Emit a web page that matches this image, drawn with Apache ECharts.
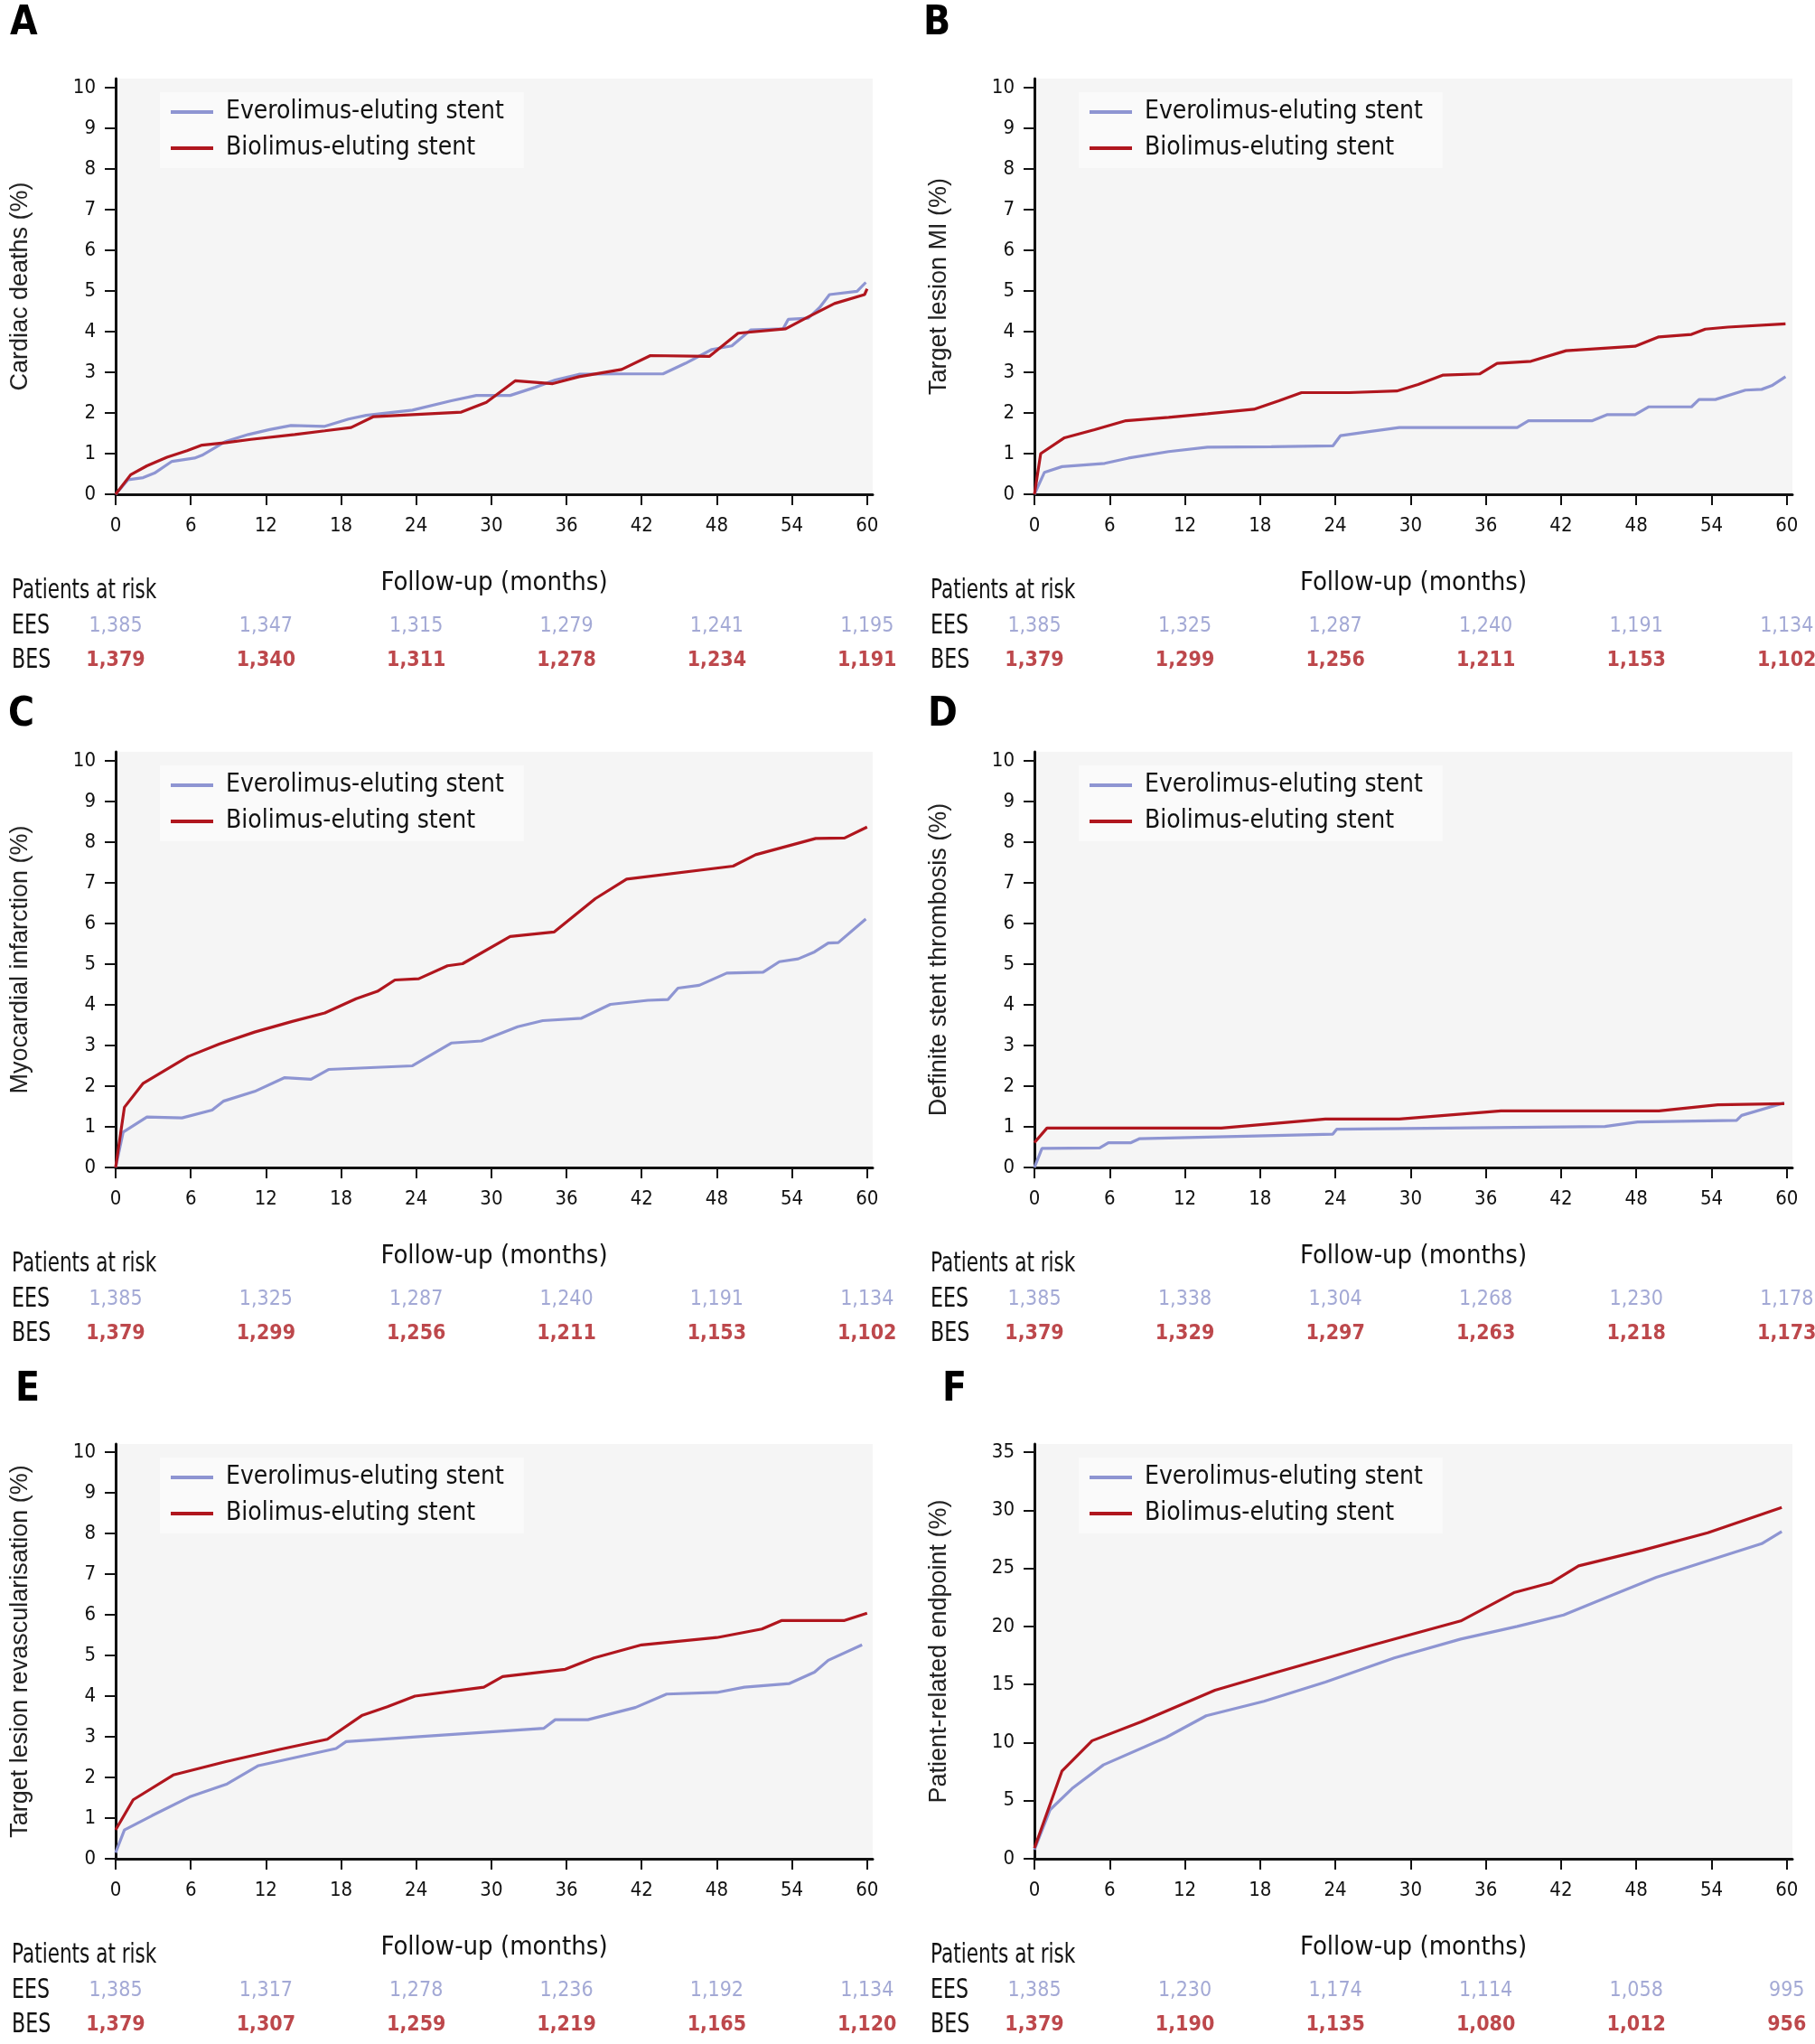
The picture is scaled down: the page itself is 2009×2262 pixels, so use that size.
<!DOCTYPE html>
<html><head><meta charset="utf-8">
<script src="https://cdn.jsdelivr.net/npm/echarts@6/dist/echarts.min.js"></script>
<style>html,body{margin:0;padding:0;background:#fff}#c{width:2009px;height:2262px}</style>
</head><body><div id="c"></div>
<script>
// ---- tick labels ----
const xTicks = [0, 6, 12, 18, 24, 30, 36, 42, 48, 54, 60];
const yTicks10 = [0, 1, 2, 3, 4, 5, 6, 7, 8, 9, 10];
const yTicks35 = [0, 5, 10, 15, 20, 25, 30, 35];
const riskMonths = [0, 12, 24, 36, 48, 60];
const seriesNames = ['Everolimus-eluting stent', 'Biolimus-eluting stent'];
const riskRowNames = ['EES', 'BES'];

// ---- A: Cardiac deaths ----
const A_EES = [[0,0],[1.0,0.36],[2.2,0.41],[3.1,0.52],[4.5,0.81],[6.3,0.89],[6.9,0.96],[8.8,1.30],[10.6,1.47],[12.3,1.59],[14.0,1.69],[16.7,1.67],[18.6,1.85],[20.0,1.94],[23.7,2.07],[26.8,2.30],[28.8,2.43],[31.5,2.43],[33.5,2.63],[35.1,2.81],[37.0,2.95],[40.2,2.96],[43.7,2.96],[45.5,3.22],[47.6,3.56],[49.2,3.65],[50.7,4.04],[53.3,4.07],[53.7,4.30],[55.3,4.33],[56.2,4.59],[57.0,4.91],[59.2,4.99],[59.9,5.21]];
const A_BES = [[0,0],[1.2,0.48],[2.5,0.70],[4.1,0.91],[5.7,1.07],[6.9,1.21],[8.8,1.27],[10.8,1.35],[14.3,1.47],[16.7,1.56],[18.8,1.64],[20.6,1.91],[23.7,1.96],[27.6,2.02],[29.6,2.26],[31.9,2.79],[34.9,2.72],[37.0,2.89],[40.4,3.07],[42.7,3.41],[47.4,3.39],[49.7,3.96],[53.5,4.07],[55.1,4.33],[57.4,4.69],[59.8,4.91],[60.0,5.05]];
const A_riskEES = [1385, 1347, 1315, 1279, 1241, 1195];
const A_riskBES = [1379, 1340, 1311, 1278, 1234, 1191];

// ---- B: Target lesion MI ----
const B_EES = [[0,0],[0.8,0.54],[2.2,0.68],[5.6,0.76],[7.5,0.89],[10.7,1.05],[13.8,1.16],[18.9,1.17],[23.8,1.19],[24.4,1.44],[26.7,1.54],[29.1,1.64],[38.5,1.64],[39.4,1.81],[44.5,1.81],[45.7,1.96],[47.9,1.96],[49.0,2.15],[52.4,2.15],[53.0,2.33],[54.3,2.33],[56.7,2.56],[58.0,2.58],[58.8,2.67],[59.9,2.89]];
const B_BES = [[0,0],[0.5,1.0],[2.4,1.39],[4.8,1.59],[7.3,1.81],[10.7,1.89],[13.8,1.98],[17.5,2.09],[19.5,2.30],[21.3,2.50],[25.1,2.50],[28.9,2.54],[30.6,2.70],[32.6,2.93],[35.5,2.96],[36.9,3.22],[39.6,3.27],[42.4,3.53],[47.9,3.64],[49.8,3.87],[52.4,3.93],[53.5,4.06],[55.3,4.11],[59.9,4.19]];
const B_riskEES = [1385, 1325, 1287, 1240, 1191, 1134];
const B_riskBES = [1379, 1299, 1256, 1211, 1153, 1102];

// ---- C: Myocardial infarction ----
const C_EES = [[0,0],[0.6,0.87],[2.5,1.24],[5.3,1.22],[7.7,1.41],[8.6,1.63],[11.1,1.87],[13.5,2.21],[15.6,2.17],[17.0,2.41],[23.7,2.50],[26.8,3.06],[29.2,3.11],[32.1,3.46],[34.1,3.61],[37.2,3.67],[39.5,4.01],[42.5,4.11],[44.1,4.13],[44.9,4.41],[46.6,4.48],[48.8,4.78],[51.7,4.80],[53.0,5.06],[54.5,5.13],[55.8,5.30],[56.9,5.52],[57.7,5.53],[59.9,6.11]];
const C_BES = [[0,0],[0.7,1.48],[2.2,2.07],[5.8,2.73],[8.3,3.04],[11.1,3.33],[14.1,3.59],[16.7,3.80],[19.2,4.15],[20.9,4.33],[22.3,4.61],[24.2,4.64],[26.5,4.96],[27.7,5.01],[31.5,5.68],[35.0,5.79],[38.3,6.61],[40.8,7.09],[49.3,7.41],[51.1,7.69],[55.9,8.09],[58.2,8.10],[60.0,8.37]];
const C_riskEES = [1385, 1325, 1287, 1240, 1191, 1134];
const C_riskBES = [1379, 1299, 1256, 1211, 1153, 1102];

// ---- D: Definite stent thrombosis ----
const D_EES = [[0,0],[0.6,0.47],[5.2,0.48],[5.9,0.61],[7.7,0.61],[8.4,0.71],[23.8,0.82],[24.1,0.94],[45.5,1.01],[48.1,1.12],[56.0,1.16],[56.4,1.28],[59.8,1.59]];
const D_BES = [[0,0.61],[1.0,0.97],[14.9,0.97],[23.2,1.19],[29.1,1.19],[37.2,1.39],[49.8,1.39],[54.5,1.54],[59.8,1.57]];
const D_riskEES = [1385, 1338, 1304, 1268, 1230, 1178];
const D_riskBES = [1379, 1329, 1297, 1263, 1218, 1173];

// ---- E: Target lesion revascularisation ----
const E_EES = [[0,0.15],[0.7,0.71],[2.9,1.06],[5.9,1.52],[8.9,1.84],[11.4,2.29],[17.6,2.71],[18.4,2.88],[24.5,3.01],[34.2,3.21],[35.1,3.42],[37.7,3.42],[41.5,3.72],[44.0,4.05],[48.0,4.09],[50.2,4.22],[53.8,4.31],[55.8,4.59],[56.9,4.88],[59.6,5.26]];
const E_BES = [[0,0.71],[1.4,1.45],[4.6,2.06],[8.8,2.39],[13.1,2.69],[16.9,2.94],[19.7,3.53],[21.7,3.74],[23.9,4.00],[29.4,4.22],[30.9,4.48],[35.9,4.66],[38.2,4.94],[42.0,5.26],[48.0,5.44],[51.6,5.65],[53.2,5.86],[58.2,5.86],[60.0,6.04]];
const E_riskEES = [1385, 1317, 1278, 1236, 1192, 1134];
const E_riskBES = [1379, 1307, 1259, 1219, 1165, 1120];

// ---- F: Patient-related endpoint ----
const F_EES = [[0,0.78],[1.25,4.22],[3.0,6.04],[5.5,8.08],[10.5,10.44],[13.7,12.31],[18.3,13.55],[23.2,15.21],[28.7,17.28],[34.0,18.91],[38.5,20.0],[42.2,20.98],[45.9,22.62],[49.6,24.22],[54.1,25.78],[58.0,27.12],[59.6,28.16]];
const F_BES = [[0,0.91],[2.2,7.56],[4.6,10.16],[8.5,11.79],[14.4,14.51],[18.9,15.93],[26.7,18.32],[34.0,20.47],[38.3,22.93],[41.2,23.76],[43.4,25.21],[48.5,26.55],[53.7,28.06],[59.6,30.23]];
const F_riskEES = [1385, 1230, 1174, 1114, 1058, 995];
const F_riskBES = [1379, 1190, 1135, 1080, 1012, 956];

// ---- styling / layout ----
const NARROW = "'DejaVu Sans Condensed','Liberation Sans Narrow',sans-serif";
const SANS = "'Liberation Sans',Arial,Helvetica,sans-serif";
const COL_EES = '#8e95d2';
const COL_BES = '#b0161e';
const TXT_EES = '#8c93cb';
const TXT_BES = '#ad1a1f';
const INK = '#111111';
const X_MAX = 60.45;

const panels = [
  {letter:'A', yName:'Cardiac deaths (%)', ees:A_EES, bes:A_BES, rE:A_riskEES, rB:A_riskBES, yTicks:yTicks10, yMax:10.22, left:128, width:838, top:87, height:460, lx:11, ly:5},
  {letter:'B', yName:'Target lesion MI (%)', ees:B_EES, bes:B_BES, rE:B_riskEES, rB:B_riskBES, yTicks:yTicks10, yMax:10.22, left:1145, width:839, top:87, height:460, lx:1022, ly:5},
  {letter:'C', yName:'Myocardial infarction (%)', ees:C_EES, bes:C_BES, rE:C_riskEES, rB:C_riskBES, yTicks:yTicks10, yMax:10.22, left:128, width:838, top:832, height:460, lx:9, ly:770},
  {letter:'D', yName:'Definite stent thrombosis (%)', ees:D_EES, bes:D_BES, rE:D_riskEES, rB:D_riskBES, yTicks:yTicks10, yMax:10.22, left:1145, width:839, top:832, height:460, lx:1027, ly:770},
  {letter:'E', yName:'Target lesion revascularisation (%)', ees:E_EES, bes:E_BES, rE:E_riskEES, rB:E_riskBES, yTicks:yTicks10, yMax:10.2, left:128, width:838, top:1598, height:459, lx:17, ly:1517},
  {letter:'F', yName:'Patient-related endpoint (%)', ees:F_EES, bes:F_BES, rE:F_riskEES, rB:F_riskBES, yTicks:yTicks35, yMax:35.7, left:1145, width:839, top:1598, height:459, lx:1043, ly:1517}
];

const grid = [], xAxis = [], yAxis = [], series = [], legend = [], graphic = [];

panels.forEach((p, i) => {
  grid.push({left:p.left, top:p.top, width:p.width, height:p.height, show:true, backgroundColor:'#f5f5f5', borderWidth:0});
  xAxis.push({
    type:'value', gridIndex:i, min:0, max:X_MAX,
    name:'Follow-up (months)', nameLocation:'middle', nameGap:84,
    nameTextStyle:{fontFamily:NARROW, fontSize:29, color:INK},
    axisLine:{show:true, onZero:false, lineStyle:{color:INK, width:3}},
    axisTick:{show:true, length:12, customValues:xTicks, lineStyle:{color:INK, width:2}},
    axisLabel:{show:true, margin:24, customValues:xTicks, fontFamily:NARROW, fontSize:22, color:INK},
    splitLine:{show:false}
  });
  yAxis.push({
    type:'value', gridIndex:i, min:0, max:p.yMax,
    name:p.yName, nameLocation:'middle', nameGap:92, nameRotate:90,
    nameTextStyle:{fontFamily:SANS, fontSize:27, color:'#222'},
    axisLine:{show:true, onZero:false, lineStyle:{color:INK, width:3}},
    axisTick:{show:true, length:12, customValues:p.yTicks, lineStyle:{color:INK, width:2}},
    axisLabel:{show:true, margin:22, customValues:p.yTicks, fontFamily:NARROW, fontSize:22, color:INK},
    splitLine:{show:false}
  });
  series.push({type:'line', name:seriesNames[0], xAxisIndex:i, yAxisIndex:i, data:p.ees, symbol:'none', smooth:false,
    color:COL_EES, lineStyle:{color:COL_EES, width:3.2}, itemStyle:{color:COL_EES}, z:3});
  series.push({type:'line', name:seriesNames[1], xAxisIndex:i, yAxisIndex:i, data:p.bes, symbol:'none', smooth:false,
    color:COL_BES, lineStyle:{color:COL_BES, width:3.2}, itemStyle:{color:COL_BES}, z:4});
  legend.push({
    data:seriesNames, orient:'vertical', left:p.left + 49, top:p.top + 15,
    backgroundColor:'#fafafa', padding:[7, 22, 7, 12], itemWidth:47, itemHeight:4, itemGap:10,
    icon:'rect', selectedMode:false,
    textStyle:{fontFamily:NARROW, fontSize:28, lineHeight:30, color:INK, padding:[0,0,0,9]}
  });
  graphic.push({type:'text', left:p.lx, top:p.ly, style:{text:p.letter, fontFamily:NARROW, fontWeight:'bold', fontSize:44, fill:'#000'}});
});

// risk tables
panels.forEach((p, i) => {
  const gi = panels.length + i;
  const y0 = p.top + p.height;
  grid.push({left:p.left, top:y0 + 127, width:p.width, height:76, show:false});
  xAxis.push({type:'value', gridIndex:gi, min:0, max:X_MAX, show:false});
  yAxis.push({type:'category', gridIndex:gi, data:riskRowNames.slice().reverse(), show:false});
  const mk = (arr, row) => riskMonths.map((m, j) => [m, row, arr[j]]);
  series.push({type:'scatter', xAxisIndex:gi, yAxisIndex:gi, data:mk(p.rE, 'EES'), symbolSize:1, itemStyle:{color:'rgba(0,0,0,0)'}, silent:true,
    label:{show:true, position:'inside', formatter:(q)=>q.value[2].toLocaleString('en-US'), fontFamily:NARROW, fontSize:23, color:TXT_EES}});
  series.push({type:'scatter', xAxisIndex:gi, yAxisIndex:gi, data:mk(p.rB, 'BES'), symbolSize:1, itemStyle:{color:'rgba(0,0,0,0)'}, silent:true,
    label:{show:true, position:'inside', formatter:(q)=>q.value[2].toLocaleString('en-US'), fontFamily:NARROW, fontWeight:'bold', fontSize:23, color:TXT_BES}});
  const lx = p.left - 115;
  graphic.push({type:'text', x:lx, y:y0 + 107, scaleX:0.8, style:{text:'Patients at risk', fontFamily:NARROW, fontSize:30, fill:INK, verticalAlign:'middle'}});
  graphic.push({type:'text', x:lx, y:y0 + 146, scaleX:0.82, style:{text:riskRowNames[0], fontFamily:NARROW, fontSize:30, fill:INK, verticalAlign:'middle'}});
  graphic.push({type:'text', x:lx, y:y0 + 184, scaleX:0.82, style:{text:riskRowNames[1], fontFamily:NARROW, fontSize:30, fill:INK, verticalAlign:'middle'}});
});

const chart = echarts.init(document.getElementById('c'), null, {renderer:'canvas', width:2009, height:2262});
chart.setOption({animation:false, backgroundColor:'#ffffff', grid, xAxis, yAxis, series, legend, graphic});
</script>
</body></html>
